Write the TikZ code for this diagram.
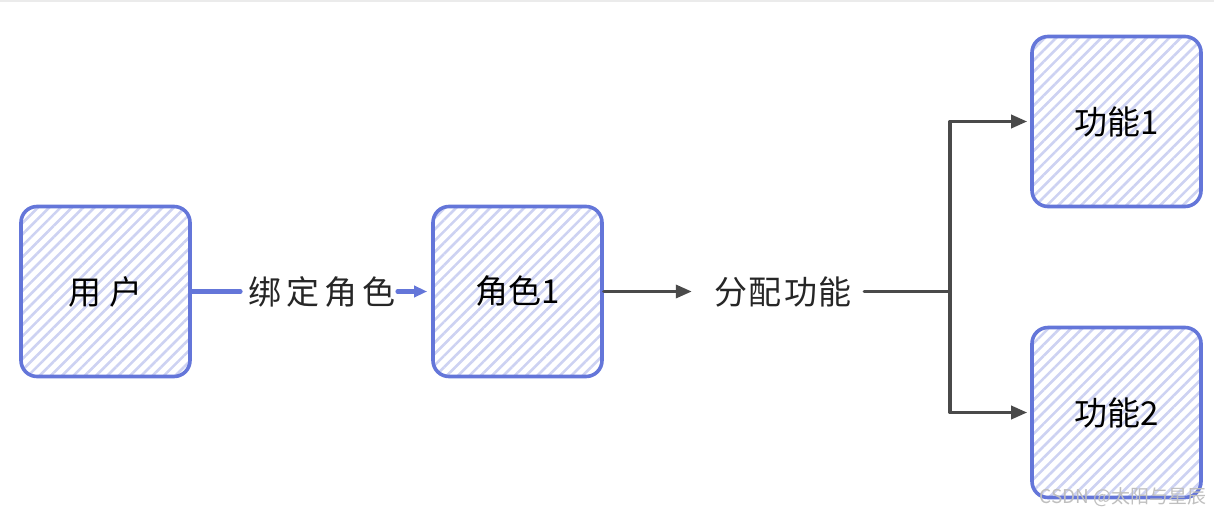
\documentclass[tikz,border=0pt]{standalone}
\usepackage{fontspec}
\setmainfont{Noto Sans CJK SC}
\newfontfamily\markfont{Noto Sans CJK SC}
\usetikzlibrary{arrows.meta,positioning,patterns.meta}
\definecolor{boxblue}{HTML}{6476D9}
\definecolor{hatchblue}{HTML}{CDD2F2}
\definecolor{linegray}{HTML}{4A4A4A}
\begin{document}
\begin{tikzpicture}[x=1pt,y=-1pt,line join=round,line cap=round,>={Triangle[length=16pt,width=13pt]},
  font=\fontsize{33}{38}\selectfont]
	\tikzset{box style/.style={draw=boxblue,line width=3.6pt,rounded corners=16pt,minimum width=169pt,minimum height=170pt,
	    pattern={Lines[angle=45,distance=8pt,line width=2.6pt]},pattern color=hatchblue,inner sep=0pt},
	  label style/.style={inner sep=0pt,text=black!85},
	  gray line/.style={draw=linegray,line width=3.4pt},
	  blue line/.style={draw=boxblue,line width=4.6pt}}
	\useasboundingbox (0,0) rectangle (1214,517);
	\draw[black!8,line width=1.5pt] (0,1)--(1214,1);
	\node[box style] (user) at (105.5,291.5) {用\hspace{8pt}户};
	\node[box style] (role) at (517.5,291.5) {角色1};
	\node[box style] (fa) at (1116.5,121.5) {功能1};
	\node[box style] (fb) at (1116.5,412.5) {功能2};
	\node[label style] (bind) at (322,291.5) {绑\hspace{5pt}定\hspace{5pt}角\hspace{5pt}色};
	\node[label style] (assign) at (783,291.5) {分\hspace{2pt}配\hspace{2pt}功\hspace{2pt}能};
	\coordinate (fork) at (950,291.5);
	\draw[blue line] (user.east) -- ([xshift=-8pt]bind.west);
	\draw[blue line,->,>={Triangle[length=13pt,width=11pt]}] ([xshift=2pt]bind.east) -- ([xshift=-4pt]role.west);
	\draw[gray line,->] (role.east) -- ([xshift=-22pt]assign.west);
	\draw[gray line] ([xshift=12pt]assign.east) -- (fork);
	\draw[gray line,->,shorten >=3pt] (fork) |- (fa.west);
	\draw[gray line,->,shorten >=3pt] (fork) |- (fb.west);
	\node[anchor=east,text=black!25,font=\markfont\fontsize{19}{22}\selectfont] (mark) at (1210,497) {CSDN @太阳与星辰};
\end{tikzpicture}
\end{document}
